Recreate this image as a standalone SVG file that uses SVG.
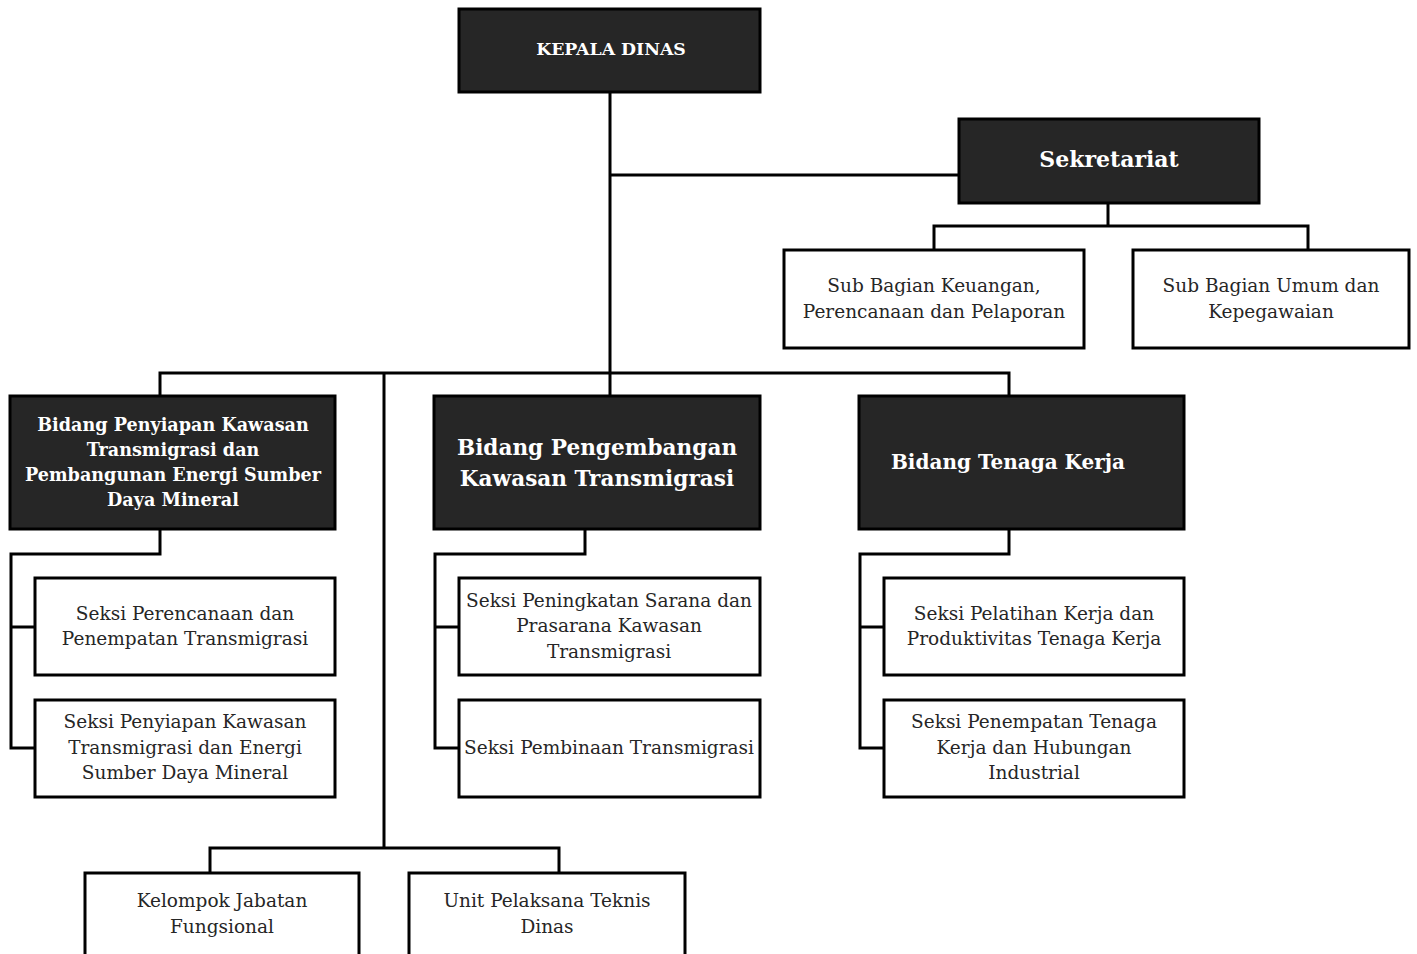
<svg xmlns="http://www.w3.org/2000/svg" width="1417" height="954" viewBox="0 0 1417 954">
<style>
.dark{fill:#262626;stroke:#000;stroke-width:3}
.light{fill:#fff;stroke:#000;stroke-width:3}
.ln{fill:none;stroke:#000;stroke-width:3}
.t{font-family:"DejaVu Serif","Liberation Serif",serif;font-size:18.5px;fill:#262626;text-anchor:middle}
.b{font-family:"DejaVu Serif","Liberation Serif",serif;font-weight:bold;fill:#fff;text-anchor:middle}
</style>
<rect width="1417" height="954" fill="#fff"/>
<g id="connectors">
<path class="ln" d="M610 92V373"/>
<path class="ln" d="M610 175H959"/>
<path class="ln" d="M1108 203V226M934 250V226H1308V250"/>
<path class="ln" d="M160 396V373H1009V396M610 373V396M384 373V848"/>
<path class="ln" d="M160 529V554H11V748H35M11 627H35"/>
<path class="ln" d="M585 529V554H435V748H459M435 627H459"/>
<path class="ln" d="M1009 529V554H860V748H884M860 627H884"/>
<path class="ln" d="M210 873V848H559V873"/>
</g>
<g id="kepala">
<rect class="dark" x="459" y="9" width="301" height="83"/>
<text class="b" x="611" y="55" font-size="17.3">KEPALA DINAS</text>
</g>
<g id="sekretariat">
<rect class="dark" x="959" y="119" width="300" height="84"/>
<text class="b" x="1109" y="167" font-size="22">Sekretariat</text>
</g>
<g id="subbag-keuangan">
<rect class="light" x="784" y="250" width="300" height="98"/>
<text class="t" x="934" y="292">Sub Bagian Keuangan,</text>
<text class="t" x="934" y="318">Perencanaan dan Pelaporan</text>
</g>
<g id="subbag-umum">
<rect class="light" x="1133" y="250" width="276" height="98"/>
<text class="t" x="1271" y="292">Sub Bagian Umum dan</text>
<text class="t" x="1271" y="318">Kepegawaian</text>
</g>
<g id="bidang-penyiapan">
<rect class="dark" x="10" y="396" width="325" height="133"/>
<text class="b" x="173" y="431" font-size="17.6">Bidang Penyiapan Kawasan</text>
<text class="b" x="173" y="456" font-size="17.6">Transmigrasi dan</text>
<text class="b" x="173" y="481" font-size="17.6">Pembangunan Energi Sumber</text>
<text class="b" x="173" y="506" font-size="17.6">Daya Mineral</text>
</g>
<g id="bidang-pengembangan">
<rect class="dark" x="434" y="396" width="326" height="133"/>
<text class="b" x="597" y="455" font-size="21.6">Bidang Pengembangan</text>
<text class="b" x="597" y="486" font-size="21.6">Kawasan Transmigrasi</text>
</g>
<g id="bidang-tenaga-kerja">
<rect class="dark" x="859" y="396" width="325" height="133"/>
<text class="b" x="1008" y="469" font-size="20">Bidang Tenaga Kerja</text>
</g>
<g id="seksi-perencanaan">
<rect class="light" x="35" y="578" width="300" height="97"/>
<text class="t" x="185" y="620">Seksi Perencanaan dan</text>
<text class="t" x="185" y="645">Penempatan Transmigrasi</text>
</g>
<g id="seksi-penyiapan">
<rect class="light" x="35" y="700" width="300" height="97"/>
<text class="t" x="185" y="728">Seksi Penyiapan Kawasan</text>
<text class="t" x="185" y="754">Transmigrasi dan Energi</text>
<text class="t" x="185" y="779">Sumber Daya Mineral</text>
</g>
<g id="seksi-peningkatan">
<rect class="light" x="459" y="578" width="301" height="97"/>
<text class="t" x="609" y="607">Seksi Peningkatan Sarana dan</text>
<text class="t" x="609" y="632">Prasarana Kawasan</text>
<text class="t" x="609" y="658">Transmigrasi</text>
</g>
<g id="seksi-pembinaan">
<rect class="light" x="459" y="700" width="301" height="97"/>
<text class="t" x="609" y="754">Seksi Pembinaan Transmigrasi</text>
</g>
<g id="seksi-pelatihan">
<rect class="light" x="884" y="578" width="300" height="97"/>
<text class="t" x="1034" y="620">Seksi Pelatihan Kerja dan</text>
<text class="t" x="1034" y="645">Produktivitas Tenaga Kerja</text>
</g>
<g id="seksi-penempatan">
<rect class="light" x="884" y="700" width="300" height="97"/>
<text class="t" x="1034" y="728">Seksi Penempatan Tenaga</text>
<text class="t" x="1034" y="754">Kerja dan Hubungan</text>
<text class="t" x="1034" y="779">Industrial</text>
</g>
<g id="kelompok-jabatan">
<rect class="light" x="85" y="873" width="274" height="100"/>
<text class="t" x="222" y="907">Kelompok Jabatan</text>
<text class="t" x="222" y="933">Fungsional</text>
</g>
<g id="upt-dinas">
<rect class="light" x="409" y="873" width="276" height="100"/>
<text class="t" x="547" y="907">Unit Pelaksana Teknis</text>
<text class="t" x="547" y="933">Dinas</text>
</g>
</svg>
